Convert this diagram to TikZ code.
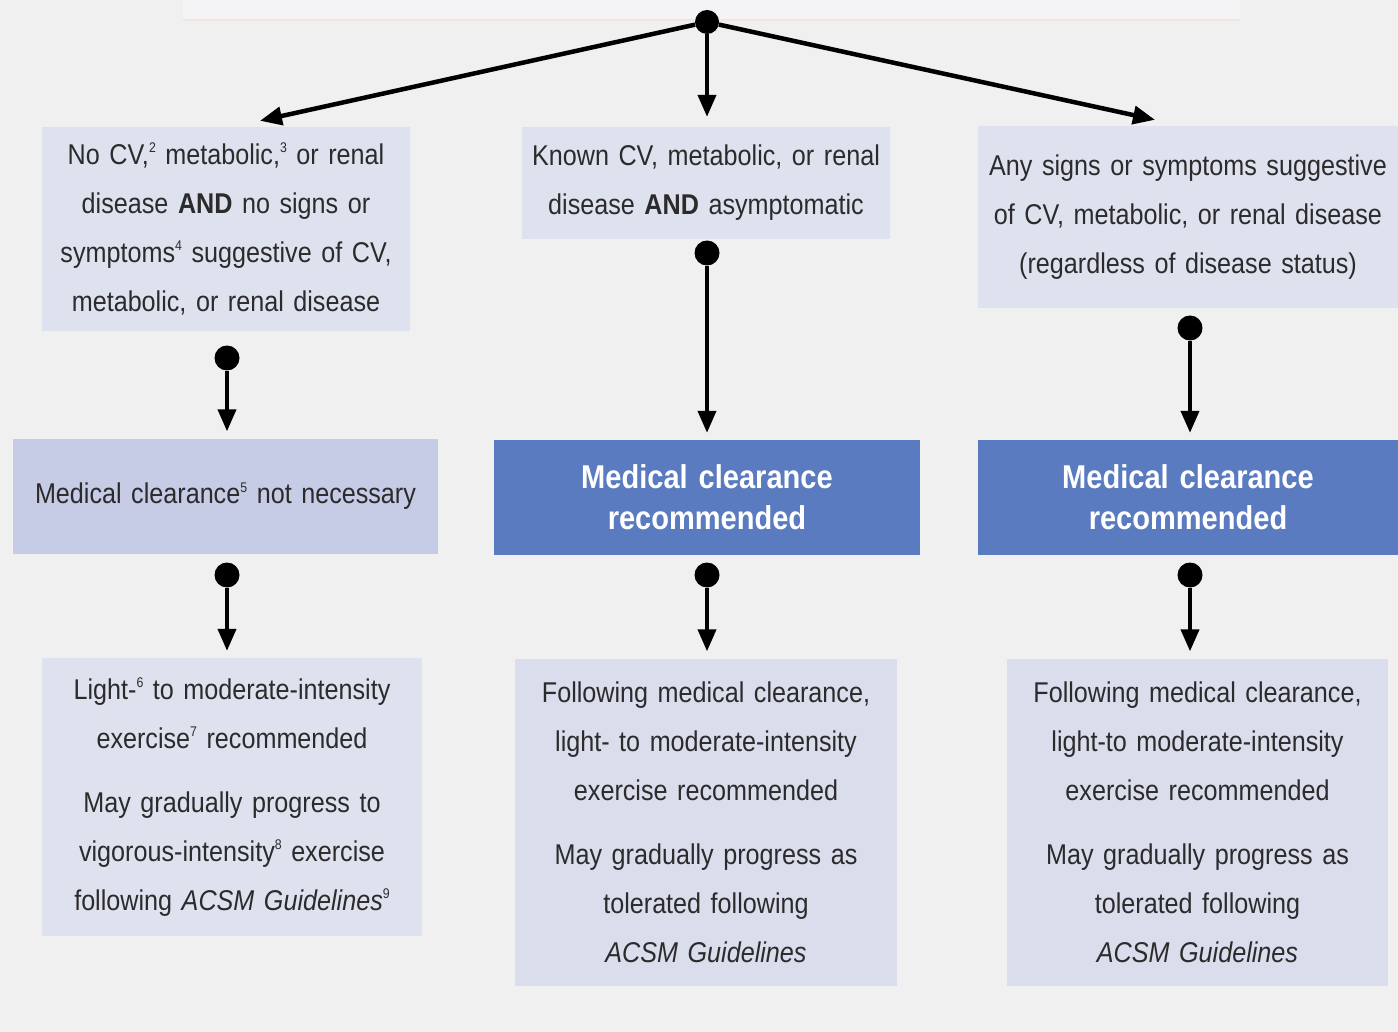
\documentclass[tikz,border=0pt]{standalone}
\usepackage{fontspec}
\setmainfont{Liberation Sans}[FakeStretch=0.88, WordSpace=0.75]
\usetikzlibrary{arrows.meta}
\definecolor{bg}{HTML}{F0F0F0}
\definecolor{topbox}{HTML}{F4F4F6}
\definecolor{topline}{HTML}{F3E6D8}
\definecolor{lightbox}{HTML}{DEE2EF}
\definecolor{lowbox}{HTML}{D9DDEC}
\definecolor{midbox}{HTML}{C6CBE6}
\definecolor{bluebox}{HTML}{5A7BBF}
\definecolor{txt}{HTML}{2B2B2B}
\newcommand{\sps}[1]{\raisebox{0.75ex}{\fontsize{14}{14}\selectfont #1}}
\begin{document}
\begin{tikzpicture}[x=1pt,y=-1pt,
  box/.style={rectangle, inner sep=0pt, align=center, text=txt,
    font=\fontsize{28.6}{49}\selectfont},
  light/.style={box, fill=lightbox},
  low/.style={box, fill=lowbox},
  mid/.style={box, fill=midbox},
  blue/.style={box, fill=bluebox, text=white,
    font=\fontsize{33}{41}\selectfont\bfseries},
  dot/.style={circle, fill=black, minimum size=25pt, inner sep=0pt},
  arr/.style={-{Triangle[length=22pt,width=18pt]}, line width=4.5pt},
  varr/.style={-{Triangle[length=22pt,width=18pt]}, line width=4pt, shorten >=7pt}]
\useasboundingbox (0,0) rectangle (1398,1032);
\fill[bg] (0,0) rectangle (1398,1032);
% faint cropped start box
\fill[topbox] (183,0) rectangle (1240,20);
\draw[topline, line width=2pt] (183,20) -- (1240,20);

% first row
\node[light, minimum width=368pt, minimum height=204pt, text width=360pt] (a1) at (226,229)
 {No CV,\sps{2} metabolic,\sps{3} or renal\\
  disease \textbf{AND} no signs or\\
  symptoms\sps{4} suggestive of CV,\\
  metabolic, or renal disease};
\node[light, minimum width=368pt, minimum height=112pt, text width=360pt] (b1) at (706,183)
 {Known CV, metabolic, or renal\\ disease \textbf{AND} asymptomatic};
\node[light, minimum width=420pt, minimum height=182pt, text width=416pt] (c1) at (1188,217)
 {Any signs or symptoms suggestive\\ of CV, metabolic, or renal disease\\ (regardless of disease status)};

% second row
\node[mid, minimum width=425pt, minimum height=115pt, text width=415pt] (a2) at (225.5,496)
 {Medical clearance\sps{5} not necessary};
\node[blue, minimum width=426pt, minimum height=115pt, text width=410pt] (b2) at (707,497.5)
 {Medical clearance\\ recommended};
\node[blue, minimum width=420pt, minimum height=115pt, text width=410pt] (c2) at (1188,497.5)
 {Medical clearance\\ recommended};

% third row
\node[light, minimum width=380pt, minimum height=278pt, text width=372pt] (a3) at (232,797)
 {Light-\sps{6} to moderate-intensity\\ exercise\sps{7} recommended\\[15pt]
  May gradually progress to\\ vigorous-intensity\sps{8} exercise\\
  following \textit{ACSM Guidelines}\sps{9}};
\node[low, minimum width=382pt, minimum height=327pt, text width=374pt] (b3) at (706,822)
 {Following medical clearance,\\ light- to moderate-intensity\\ exercise recommended\\[15pt]
  May gradually progress as\\ tolerated following\\ \textit{ACSM Guidelines}};
\node[low, minimum width=381pt, minimum height=327pt, text width=374pt] (c3) at (1197.5,822)
 {Following medical clearance,\\ light-to moderate-intensity\\ exercise recommended\\[15pt]
  May gradually progress as\\ tolerated following\\ \textit{ACSM Guidelines}};

% dots
\node[dot, minimum size=24pt] (top) at (707,22) {};
\node[dot] (da1) at (227,358) {};
\node[dot] (db1) at (707,253) {};
\node[dot] (dc1) at (1190,328) {};
\node[dot] (da2) at (227,575) {};
\node[dot] (db2) at (707,575) {};
\node[dot] (dc2) at (1190,575) {};

% connectors
\draw[arr] (top) -- ([xshift=34pt,yshift=6pt]a1.north);
\draw[arr, line width=4pt] (top) -- ([xshift=1pt,yshift=10pt]b1.north);
\draw[arr] (top) -- ([xshift=-33pt,yshift=6pt]c1.north);
\draw[varr] (da1) -- (da1 |- a2.north);
\draw[varr] (db1) -- (db1 |- b2.north);
\draw[varr] (dc1) -- (dc1 |- c2.north);
\draw[varr] (da2) -- (da2 |- a3.north);
\draw[varr] (db2) -- (db2 |- b3.north);
\draw[varr] (dc2) -- (dc2 |- c3.north);
\end{tikzpicture}
\end{document}
